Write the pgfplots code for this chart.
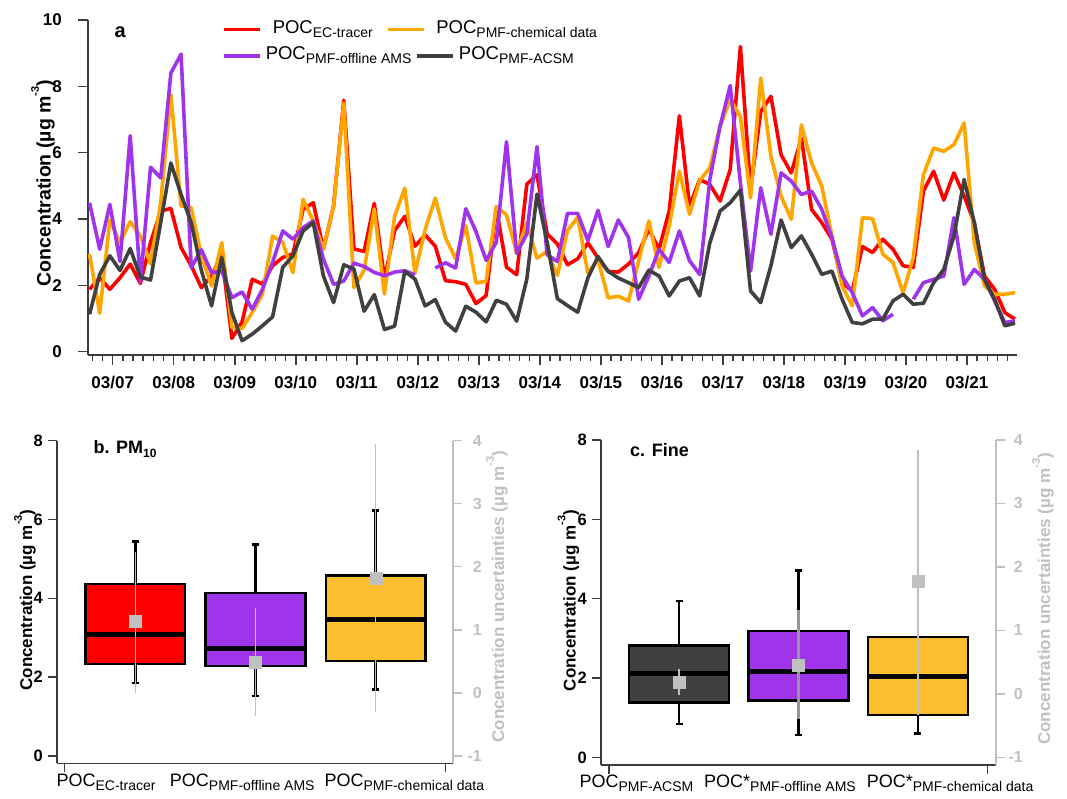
\documentclass[border=0pt]{standalone}
\usepackage{fontspec}
\setmainfont{Liberation Sans}
\usepackage{pgfplots}
\usepackage{pgfplotstable}
\pgfplotsset{compat=1.18}
\usepgfplotslibrary{statistics}

\definecolor{cred}{RGB}{255,0,0}
\definecolor{corange}{RGB}{255,165,0}
\definecolor{cpurple}{RGB}{160,52,235}
\definecolor{cdark}{RGB}{64,64,64}
\definecolor{cyellow}{RGB}{252,190,46}
\definecolor{cgray}{RGB}{192,192,192}
\definecolor{cgrayd}{RGB}{150,150,150}
\definecolor{caxis}{RGB}{60,60,60}

\newcommand{\fs}[1]{\fontsize{#1}{#1}\selectfont}
\newcommand{\sub}[1]{\raisebox{-4pt}{\fs{14}#1}}
\newcommand{\sups}[1]{\raisebox{0.6em}{\fs{11}#1}}

\pgfplotstableread{
i red orange purple black
0 1.88 2.94 4.49 1.13
1 2.23 1.16 3.09 2.33
2 1.88 3.97 4.44 2.89
3 2.23 3.29 2.72 2.45
4 2.64 3.92 6.51 3.11
5 2.06 3.49 2.10 2.25
6 3.29 2.65 5.56 2.16
7 4.24 4.50 5.24 3.89
8 4.32 7.75 8.40 5.69
9 3.14 4.39 8.97 4.74
10 2.59 4.34 2.54 3.89
11 1.93 2.89 3.07 2.45
12 2.28 1.98 2.38 1.38
13 2.93 3.29 2.43 2.84
14 0.40 0.73 1.63 1.18
15 0.90 0.70 1.80 0.33
16 2.18 1.18 1.28 0.53
17 2.04 1.73 1.88 0.78
18 2.59 3.49 2.69 1.05
19 2.84 3.29 3.64 2.54
20 2.95 2.38 3.39 2.89
21 4.29 4.59 3.74 3.64
22 4.49 3.94 3.94 3.89
23 3.09 3.09 2.79 2.28
24 4.40 4.39 2.03 1.48
25 7.58 7.50 2.13 2.62
26 3.10 1.93 2.67 2.49
27 3.02 2.45 2.57 1.22
28 4.47 4.30 2.39 1.72
29 2.20 1.74 2.29 0.67
30 3.65 4.08 2.40 0.77
31 4.08 4.93 2.44 2.42
32 3.18 2.37 2.32 2.19
33 3.52 3.68 nan 1.38
34 3.18 4.63 2.52 1.57
35 2.14 3.43 2.68 0.89
36 2.11 2.80 2.52 0.62
37 2.03 3.80 4.31 1.37
38 1.45 2.07 3.62 1.19
39 1.69 2.12 2.75 0.90
40 4.33 4.38 3.30 1.55
41 2.55 4.12 6.33 1.43
42 2.32 2.98 2.97 0.92
43 5.05 3.90 3.55 2.19
44 5.33 2.82 6.18 4.75
45 3.55 3.02 2.92 3.30
46 3.25 2.30 2.72 1.60
47 2.62 3.65 4.17 1.39
48 2.80 4.05 4.17 1.19
49 3.28 2.37 3.35 2.22
50 2.82 2.77 4.26 2.87
51 2.42 1.62 3.17 2.42
52 2.40 1.67 3.97 2.22
53 2.64 1.53 3.44 2.08
54 2.99 2.74 1.58 1.93
55 3.69 3.94 2.28 2.46
56 3.09 2.54 3.09 2.28
57 4.24 3.79 2.69 1.68
58 7.11 5.44 3.64 2.13
59 4.39 4.14 2.74 2.23
60 5.19 5.16 2.33 1.68
61 5.04 5.55 5.20 3.29
62 4.54 6.79 6.80 4.24
63 5.49 7.60 8.02 4.49
64 9.20 7.09 5.09 4.87
65 4.89 4.64 2.43 1.83
66 7.24 8.25 4.94 1.48
67 7.70 5.89 3.54 2.59
68 5.94 4.69 5.39 3.97
69 5.39 3.99 5.14 3.14
70 6.44 6.84 4.74 3.49
71 4.29 5.69 4.84 2.94
72 3.89 4.99 4.29 2.33
73 3.39 3.49 3.44 2.43
74 2.08 1.98 2.28 1.58
75 1.83 1.38 1.78 0.88
76 3.17 4.04 1.08 0.84
77 2.99 4.01 1.33 0.98
78 3.39 2.94 0.93 0.98
79 3.09 2.69 1.13 1.53
80 2.59 1.78 nan 1.73
81 2.54 2.84 1.58 1.43
82 4.84 5.34 2.08 1.46
83 5.44 6.14 2.18 2.08
84 4.57 6.04 2.28 2.48
85 5.39 6.24 4.04 3.49
86 4.69 6.89 2.03 5.19
87 3.89 3.29 2.48 3.89
88 2.28 1.98 2.18 2.18
89 1.88 1.73 1.53 1.58
90 1.18 1.73 0.88 0.78
91 0.98 1.78 0.93 0.86
}\timeseries

\pgfplotsset{
  myaxis/.style={scale only axis, anchor=south west, clip=false,
    axis line style={-, line width=1.5pt, color=caxis},
    tick align=outside,
    tick style={line width=1.5pt, color=caxis},
    /pgf/number format/assume math mode=true},
  serie/.style={line width=3.6pt, line join=round},
  boxaxis/.style={
    boxplot/draw direction=y,
    boxplot/every median/.style={line width=5pt},
    boxplot/every whisker/.style={line width=2.5pt},
    boxplot/every box/.style={line width=2.5pt}},
}

\begin{document}
\begin{tikzpicture}
\useasboundingbox (0pt,0pt) rectangle (1067pt,799pt);

% ---------------- panel a ----------------
\begin{axis}[myaxis, at={(88pt,444pt)}, width=929pt, height=335pt,
  xmin=-0.15, xmax=91.2, ymin=-0.1, ymax=10,
  axis x line*=bottom, axis y line*=left,
  xtick={2.28,8.28,14.28,20.28,26.28,32.28,38.28,44.28,50.28,56.28,62.28,68.28,74.28,80.28,86.28},
  xticklabels={03/07,03/08,03/09,03/10,03/11,03/12,03/13,03/14,03/15,03/16,03/17,03/18,03/19,03/20,03/21},
  minor xtick={0.28,1.28,...,90.28},
  ytick={0,2,4,6,8,10},
  major tick length=10pt, minor tick length=6pt,
  xtick pos=bottom, ytick pos=left,
  xticklabel style={font=\fs{17}\bfseries, inner sep=0pt, anchor=north, yshift=-11pt},
  yticklabel style={font=\fs{17}\bfseries, inner sep=0pt, anchor=east, xshift=-16pt},
  ylabel={Concentration (µg m\sups{-3})},
  every axis y label/.style={at={(rel axis cs:-0.0484,0.513)}, rotate=90, anchor=center, font=\fs{19.5}\bfseries},
  unbounded coords=jump,
  legend columns=2,
  legend style={at={(rel axis cs:0.1442,0.9776)}, anchor=west, draw=none, fill=none,
    inner sep=0pt, font=\fs{18.5}, column sep=0pt, nodes={inner sep=0pt},
    /tikz/every odd column/.append style={column sep=11pt},
    /tikz/every even column/.append style={column sep=13pt}},
  legend image code/.code={\draw[#1] (0pt,-2pt) -- (36pt,-2pt);},
]
\addplot[serie, cred] table[x=i, y=red]{\timeseries};
\addlegendentry{POC\sub{EC-tracer}}
\addplot[serie, corange] table[x=i, y=orange]{\timeseries};
\addlegendentry{POC\sub{PMF-chemical data}}
\addplot[serie, cpurple] table[x=i, y=purple]{\timeseries};
\addplot[serie, cdark] table[x=i, y=black]{\timeseries};
\node[anchor=base west, font=\fs{20}\bfseries] at (rel axis cs:0.0248,0.948) {a};
\end{axis}

\begin{axis}[scale only axis, anchor=south west, at={(88pt,444pt)}, width=929pt, height=335pt,
  hide axis, xmin=0, xmax=1, ymin=0, ymax=1,
  legend columns=2,
  legend style={at={(rel axis cs:0.1442,0.8985)}, anchor=west, draw=none, fill=none,
    inner sep=0pt, font=\fs{18.5}, column sep=0pt, nodes={inner sep=0pt},
    /tikz/every odd column/.append style={column sep=4pt},
    /tikz/every even column/.append style={column sep=4pt}},
  legend image code/.code={\draw[#1] (0pt,-2pt) -- (36pt,-2pt);},
]
\addlegendimage{serie, cpurple}
\addlegendentry{POC\sub{PMF-offline AMS}}
\addlegendimage{serie, cdark}
\addlegendentry{POC\sub{PMF-ACSM}}
\end{axis}

% ---------------- panel b ----------------
\begin{axis}[myaxis, boxaxis, at={(57pt,35.7pt)}, width=396pt, height=322.6pt,
  xmin=0.349, xmax=3.643, ymin=-0.19, ymax=8,
  axis x line*=bottom, axis y line*=left,
  xtick={0.41,3.58}, xticklabels={,},
  extra x ticks={0.757,1.89,3.238},
  extra x tick labels={POC\sub{EC-tracer},POC\sub{PMF-offline AMS},POC\sub{PMF-chemical data}},
  extra x tick style={major tick length=0pt, xticklabel style={font=\fs{18}, anchor=north, inner sep=0pt, yshift=-10pt}},
  ytick={0,2,4,6,8}, major tick length=9pt,
  xtick pos=bottom, ytick pos=left,
  yticklabel style={font=\fs{16.5}\bfseries, anchor=east, inner sep=0pt, xshift=-5pt},
  ylabel={Concentration (µg m\sups{-3})},
  every axis y label/.style={at={(rel axis cs:-0.0808,0.506)}, rotate=90, anchor=center, font=\fs{17}\bfseries},
]
\addplot[boxplot prepared={lower whisker=1.85, lower quartile=2.33, median=3.09, upper quartile=4.36, upper whisker=5.44, draw position=1, box extend=0.83, whisker extend=0.06}, draw=black, fill=cred, line width=2.5pt] coordinates {};
\addplot[boxplot prepared={lower whisker=1.52, lower quartile=2.28, median=2.72, upper quartile=4.13, upper whisker=5.37, draw position=2, box extend=0.83, whisker extend=0.06}, draw=black, fill=cpurple, line width=2.5pt] coordinates {};
\addplot[boxplot prepared={lower whisker=1.68, lower quartile=2.41, median=3.45, upper quartile=4.58, upper whisker=6.23, draw position=3, box extend=0.83, whisker extend=0.06}, draw=black, fill=cyellow, line width=2.5pt] coordinates {};
\node[anchor=base west, font=\fs{18}\bfseries] at (rel axis cs:0.0833,0.961) {b. PM\raisebox{-4pt}{\fs{12}10}};
\end{axis}

\begin{axis}[myaxis, at={(57pt,35.7pt)}, width=396pt, height=322.6pt,
  xmin=0.349, xmax=3.643, ymin=-1.119, ymax=4,
  axis x line=none, axis y line*=right,
  axis line style={-, line width=1.5pt, color=cgray},
  tick style={line width=1.5pt, color=cgray},
  ytick={-1,0,1,2,3,4}, ytick pos=right, major tick length=9pt,
  yticklabel style={font=\fs{16}\bfseries, color=cgray, anchor=east, inner sep=0pt, xshift=20pt},
  ylabel={Concentration uncertainties (µg m\sups{-3})},
  every axis y label/.style={at={(rel axis cs:1.111,0.516)}, rotate=90, anchor=center, font=\fs{17}\bfseries, color=cgray},
]
\addplot[only marks, mark=square*, mark size=6pt, color=cgray, error bars/.cd, y dir=both, y explicit, error bar style={line width=1.5pt, color=cgray}, error mark=none] coordinates {(1,1.13) += (0,1.11) -= (0,1.13)};
\addplot[only marks, mark=square*, mark size=6pt, color=cgray, error bars/.cd, y dir=both, y explicit, error bar style={line width=1.5pt, color=cgray}, error mark=none] coordinates {(2,0.48) += (0,0.86) -= (0,0.856)};
\addplot[only marks, mark=square*, mark size=6pt, color=cgray, error bars/.cd, y dir=both, y explicit, error bar style={line width=1.5pt, color=cgray}, error mark=none] coordinates {(3,1.82) += (0,2.13) -= (0,2.13)};
\end{axis}

% ---------------- panel c ----------------
\begin{axis}[myaxis, boxaxis, at={(601pt,34pt)}, width=395pt, height=325pt,
  xmin=0.345, xmax=3.655, ymin=-0.19, ymax=8,
  axis x line*=bottom, axis y line*=left,
  xtick={0.412,3.583}, xticklabels={,},
  extra x ticks={0.642,1.845,3.27},
  extra x tick labels={POC\sub{PMF-ACSM},POC*\sub{PMF-offline AMS},POC*\sub{PMF-chemical data}},
  extra x tick style={major tick length=0pt, xticklabel style={font=\fs{18}, anchor=north, inner sep=0pt, yshift=-10pt}},
  ytick={0,2,4,6,8}, major tick length=9pt,
  xtick pos=bottom, ytick pos=left,
  yticklabel style={font=\fs{16.5}\bfseries, anchor=east, inner sep=0pt, xshift=-5pt},
  ylabel={Concentration (µg m\sups{-3})},
  every axis y label/.style={at={(rel axis cs:-0.0823,0.506)}, rotate=90, anchor=center, font=\fs{17}\bfseries},
]
\addplot[boxplot prepared={lower whisker=0.84, lower quartile=1.38, median=2.12, upper quartile=2.82, upper whisker=3.94, draw position=1, box extend=0.838, whisker extend=0.06}, draw=black, fill=cdark, line width=2.5pt] coordinates {};
\addplot[boxplot prepared={lower whisker=0.56, lower quartile=1.44, median=2.16, upper quartile=3.19, upper whisker=4.71, draw position=2, box extend=0.838, whisker extend=0.06}, draw=black, fill=cpurple, line width=2.5pt] coordinates {};
\addplot[boxplot prepared={lower whisker=0.60, lower quartile=1.07, median=2.03, upper quartile=3.04, upper whisker=4.35, draw position=3, box extend=0.838, whisker extend=0.06}, draw=black, fill=cyellow, line width=2.5pt] coordinates {};
\node[anchor=base west, font=\fs{18}\bfseries] at (rel axis cs:0.065,0.9486) {c. Fine};
\end{axis}

\begin{axis}[myaxis, at={(601pt,34pt)}, width=395pt, height=325pt,
  xmin=0.345, xmax=3.655, ymin=-1.119, ymax=4,
  axis x line=none, axis y line*=right,
  axis line style={-, line width=1.5pt, color=cgray},
  tick style={line width=1.5pt, color=cgray},
  ytick={-1,0,1,2,3,4}, ytick pos=right, major tick length=9pt,
  yticklabel style={font=\fs{16}\bfseries, color=cgray, anchor=east, inner sep=0pt, xshift=18pt},
  ylabel={Concentration uncertainties (µg m\sups{-3})},
  every axis y label/.style={at={(rel axis cs:1.119,0.511)}, rotate=90, anchor=center, font=\fs{17}\bfseries, color=cgray},
]
\addplot[only marks, mark=square*, mark size=6pt, color=cgray, error bars/.cd, y dir=both, y explicit, error bar style={line width=2.5pt, color=cgray}, error mark=none] coordinates {(1,0.18) += (0,0.21) -= (0,0.20)};
\addplot[only marks, mark=square*, mark size=6pt, color=cgray, error bars/.cd, y dir=both, y explicit, error bar style={line width=2.5pt, color=cgrayd}, error mark=none] coordinates {(2,0.46) += (0,0.86) -= (0,0.85)};
\addplot[only marks, mark=square*, mark size=6pt, color=cgray, error bars/.cd, y dir=both, y explicit, error bar style={line width=1.5pt, color=cgray}, error mark=none] coordinates {(3,1.78) += (0,2.07) -= (0,2.11)};
\end{axis}
\end{tikzpicture}
\end{document}
